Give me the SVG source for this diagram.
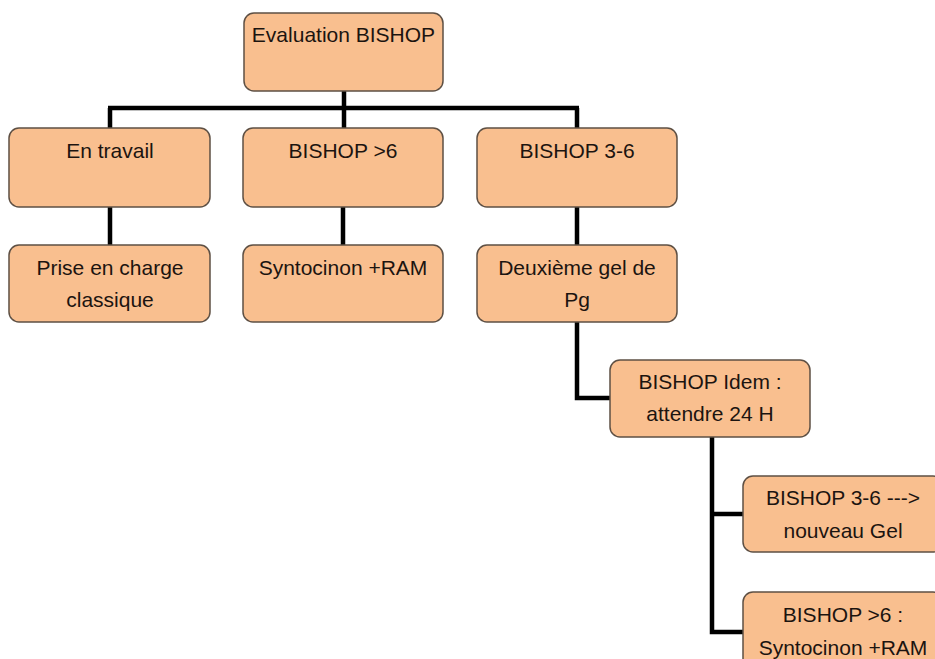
<svg xmlns="http://www.w3.org/2000/svg" width="935" height="659" viewBox="0 0 935 659">
<style>
.box{fill:#F9BF8F;stroke:#5e5044;stroke-width:1.5}
.t{font-family:"Liberation Sans",Arial,sans-serif;font-size:21px;fill:#1c1410;text-anchor:middle}
.c{fill:none;stroke:#000;stroke-width:4.5;stroke-linejoin:miter}
</style>
<rect width="935" height="659" fill="#fff"/>
<g id="connectors">
<path class="c" d="M344 91V128"/>
<path class="c" d="M108 108H579"/>
<path class="c" d="M110 108V128M577 108V128"/>
<path class="c" d="M110 207V245M343 207V245M577 207V245"/>
<path class="c" d="M577 322V398H611"/>
<path class="c" d="M712 437V632H743M712 514H743"/>
</g>
<g id="n1"><rect class="box" x="244" y="13" width="199" height="78" rx="10"/><text class="t" x="343.5" y="42">Evaluation BISHOP</text></g>
<g id="n2"><rect class="box" x="9" y="128" width="201" height="79" rx="10"/><text class="t" x="110" y="158">En travail</text></g>
<g id="n3"><rect class="box" x="243" y="128" width="200" height="79" rx="10"/><text class="t" x="343" y="158">BISHOP &gt;6</text></g>
<g id="n4"><rect class="box" x="477" y="128" width="200" height="79" rx="10"/><text class="t" x="577" y="158">BISHOP 3-6</text></g>
<g id="n5"><rect class="box" x="9" y="245" width="201" height="77" rx="10"/><text class="t" x="110" y="275">Prise en charge</text><text class="t" x="110" y="307">classique</text></g>
<g id="n6"><rect class="box" x="243" y="245" width="200" height="77" rx="10"/><text class="t" x="343" y="275">Syntocinon +RAM</text></g>
<g id="n7"><rect class="box" x="477" y="245" width="200" height="77" rx="10"/><text class="t" x="577" y="275">Deuxième gel de</text><text class="t" x="577" y="307">Pg</text></g>
<g id="n8"><rect class="box" x="610" y="360" width="200" height="77" rx="10"/><text class="t" x="710" y="389">BISHOP Idem :</text><text class="t" x="710" y="421">attendre 24 H</text></g>
<g id="n9"><rect class="box" x="743" y="476" width="200" height="76" rx="10"/><text class="t" x="843" y="505">BISHOP 3-6 ---&gt;</text><text class="t" x="843" y="538">nouveau Gel</text></g>
<g id="n10"><rect class="box" x="743" y="592" width="200" height="80" rx="10"/><text class="t" x="843" y="622">BISHOP &gt;6 :</text><text class="t" x="843" y="655">Syntocinon +RAM</text></g>
</svg>
